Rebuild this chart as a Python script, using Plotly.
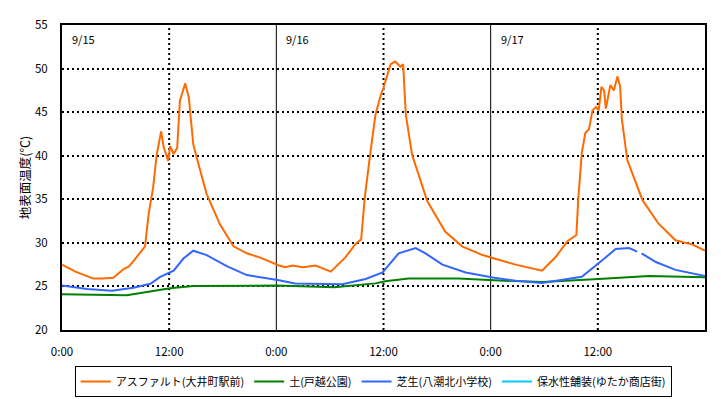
import plotly.graph_objects as go

# ---- data (hours from 9/15 0:00) ----
ASPH_T = [0, 1.5, 3.5, 4.6, 5.75, 6.9, 7.5, 8.0, 9.3, 9.7, 10.2, 10.6, 11.1, 11.4, 11.9, 12.1, 12.5, 12.9,
          13.2, 13.8, 14.2, 14.7, 15.4, 16.2, 17.7, 19.2, 20.7, 22.2, 24.3, 25.0, 25.8, 27.0, 28.4, 30.1, 31.7, 32.9,
          33.5, 33.9, 34.5, 35.1, 35.7, 36.0, 36.8, 37.3, 37.9, 38.2, 38.5, 39.2, 40.9, 42.9, 44.8,
          47.1, 48.4, 50.8, 53.75, 55.3, 56.6, 57.6, 57.8, 58.2, 58.6, 59.0, 59.4, 59.8, 60.1, 60.4,
          60.7, 60.9, 61.4, 61.8, 62.2, 62.5, 62.7, 63.3, 65.0, 66.8, 68.7, 70.6, 72]
ASPH_V = [27.5, 26.7, 25.9, 25.9, 26.0, 27.0, 27.3, 27.9, 29.6, 33.3, 36.3, 40.1, 42.8, 40.9, 39.4, 41.1,
          40.2, 40.9, 46.3, 48.3, 46.7, 41.3, 38.6, 35.6, 32.1, 29.6, 28.8, 28.3, 27.4, 27.2, 27.4, 27.2, 27.4, 26.7,
          28.3, 29.9, 30.4, 35.2, 40.1, 44.7, 47.0, 47.8, 50.5, 50.8, 50.2, 50.5, 44.7, 40.1, 34.8,
          31.3, 29.6, 28.6, 28.2, 27.5, 26.8, 28.4, 30.2, 30.9, 34.9, 40.3, 42.6, 43.0, 45.2, 45.6,
          45.2, 47.9, 47.5, 45.4, 48.1, 47.5, 49.1, 47.9, 44.1, 39.5, 34.9, 32.2, 30.3, 29.8, 29.1]

SOIL_T = [0, 7.25, 12.1, 14.7, 24.0, 30.5, 35.1, 36.2, 38.8, 44.4, 48.4, 53.75, 60.1, 65.7, 72]
SOIL_V = [24.1, 24.0, 24.8, 25.05, 25.1, 24.9, 25.35, 25.6, 25.9, 25.9, 25.7, 25.5, 25.85, 26.2, 26.05]

GRASS_T = [0, 2.8, 5.6, 8.0, 9.9, 11.0, 12.5, 13.6, 14.7, 16.2, 18.5, 20.7, 24.3, 26.1, 31.4, 34.0,
           35.9, 37.7, 39.6, 40.7, 42.6, 45.2, 48.4, 50.8, 53.75, 56.4, 58.2, 60.5, 62.0, 63.5,
           64.4, 64.6, 64.9, 66.5, 68.7, 72]
GRASS_V = [25.1, 24.7, 24.5, 24.85, 25.3, 26.1, 26.8, 28.2, 29.1, 28.6, 27.3, 26.3, 25.7, 25.35,
           25.25, 25.85, 26.6, 28.8, 29.4, 28.8, 27.5, 26.6, 26.0, 25.65, 25.4, 25.8, 26.1, 28.0,
           29.3, 29.4, 29.0, None, 28.8, 27.8, 26.9, 26.2]

PAVE_T = [None]
PAVE_V = [None]

SERIES_NAMES = ["アスファルト(大井町駅前)", "土(戸越公園)", "芝生(八潮北小学校)", "保水性舗装(ゆたか商店街)"]
SERIES_COLORS = ["#FF6A00", "#008000", "#3366FF", "#00CCFF"]

TICK_VALS = [0, 12, 24, 36, 48, 60]
TICK_TEXT = ["0:00", "12:00", "0:00", "12:00", "0:00", "12:00"]
DAY_STARTS = [0, 24, 48]
DAY_LABELS = ["9/15", "9/16", "9/17"]
NOONS = [12, 36, 60]

FONT = "Noto Sans CJK JP"

fig = go.Figure()
for t, v, name, col in zip([ASPH_T, SOIL_T, GRASS_T, PAVE_T],
                           [ASPH_V, SOIL_V, GRASS_V, PAVE_V],
                           SERIES_NAMES, SERIES_COLORS):
    fig.add_trace(go.Scatter(x=t, y=v, mode="lines", name=name,
                             line=dict(color=col, width=2), connectgaps=False))

shapes = []
for n in NOONS:
    shapes.append(dict(type="line", xref="x", yref="paper", x0=n, x1=n, y0=0, y1=1,
                       line=dict(color="black", width=2, dash="2px,3px"), layer="below"))
for d in DAY_STARTS[1:]:
    shapes.append(dict(type="line", xref="x", yref="paper", x0=d, x1=d, y0=0, y1=1,
                       line=dict(color="black", width=1), layer="below"))

annotations = []
for d, lab in zip(DAY_STARTS, DAY_LABELS):
    annotations.append(dict(x=d + 0.9, y=0.955, xref="x", yref="paper", text=lab,
                            showarrow=False, xanchor="left", yanchor="middle",
                            font=dict(family=FONT, size=11, color="black")))

# page body has an 8px margin, so the figure is 713x391 placed at (8, 8)
fig.update_layout(
    width=713, height=391,
    margin=dict(l=54, r=16, t=17, b=69, autoexpand=False),
    paper_bgcolor="white", plot_bgcolor="white",
    font=dict(family=FONT, size=11, color="black"),
    shapes=shapes, annotations=annotations,
    legend=dict(orientation="h", x=0.484, xanchor="center", y=-0.118, yanchor="top",
                bordercolor="black", borderwidth=1, bgcolor="white",
                font=dict(family=FONT, size=11), itemwidth=30, tracegroupgap=0),
    xaxis=dict(range=[0, 72], tickmode="array", tickvals=TICK_VALS, ticktext=TICK_TEXT,
               showgrid=False, zeroline=False, showline=True, linecolor="black", linewidth=2,
               mirror=True, ticks="", ticklabelstandoff=10, tickfont=dict(size=11.5), automargin=False),
    yaxis=dict(range=[20, 55], dtick=5, tick0=20, showgrid=True, gridcolor="black", gridwidth=2,
               griddash="2px,3px", zeroline=False, showline=True, linecolor="black", linewidth=2,
               mirror=True, ticks="", ticklabelstandoff=10, tickfont=dict(size=11.5), automargin=False,
               title=dict(text="地表面温度(℃)", font=dict(size=12.5), standoff=2)),
)

fig.write_html("out.html")
